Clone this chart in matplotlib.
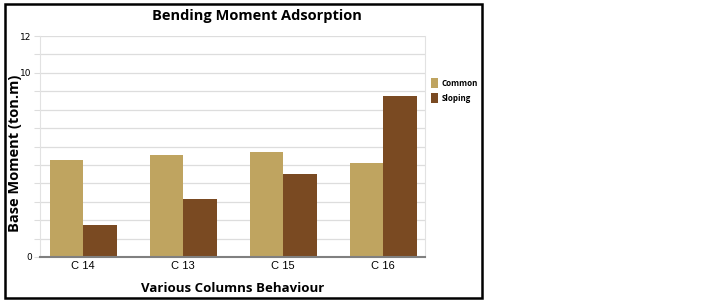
import matplotlib
matplotlib.use("Agg")
import matplotlib.pyplot as plt
import numpy as np
from matplotlib.patches import Rectangle

# data
columns = ["C 14", "C 13", "C 15", "C 16"]
common = [5.26, 5.56, 5.69, 5.08]
sloping = [1.76, 3.15, 4.50, 8.74]
ytick_labels = {0: "0", 10: "10", 12: "12"}

common_color = "#BFA460"
sloping_color = "#7A4A22"
bold_font = "Open Sans"

fig = plt.figure(figsize=(7.22, 3.0), dpi=100)
ax = fig.add_axes([40/722, 43/300, 385/722, 221/300])

x = np.arange(len(columns))
w = 0.335
ax.bar(x - w/2, common, w, color=common_color, label="Common", zorder=3)
ax.bar(x + w/2, sloping, w, color=sloping_color, label="Sloping", zorder=3)

ax.set_xlim(-0.43, 3.42)
ax.set_ylim(0, 12)
ax.set_yticks(range(0, 13))
ax.set_yticklabels([ytick_labels.get(v, "") for v in range(0, 13)],
                   fontsize=6.5, family="DejaVu Sans")
ax.tick_params(axis="y", length=4, color="#dddddd", pad=2)
ax.grid(axis="y", color="#dddddd", linewidth=0.9, zorder=0)

ax.set_xticks(x)
ax.set_xticklabels(columns, fontsize=8, family="Liberation Sans")
ax.tick_params(axis="x", length=0, pad=3)

for side in ["left", "right", "top"]:
    ax.spines[side].set_color("#e2e2e2")
ax.spines["top"].set_visible(False)
ax.spines["bottom"].set_color("#808080")
ax.spines["bottom"].set_linewidth(1.5)
ax.spines["bottom"].set_zorder(4)

fig.text(15/722, 1 - 153/300, "Base Moment (ton.m)", fontsize=10.5, fontweight="bold",
         family=bold_font, rotation=90, ha="center", va="center")
fig.text(233/722, 1 - 289/300, "Various Columns Behaviour", fontsize=9.5,
         fontweight="bold", family=bold_font, ha="center", va="center")
fig.text(257/722, 1 - 16/300, "Bending Moment Adsorption", fontsize=10.5,
         fontweight="bold", family=bold_font, ha="center", va="center")

leg = ax.legend(loc="upper left", bbox_to_anchor=(1.0, 0.835), frameon=False,
                prop={"size": 5.8, "weight": "bold", "family": bold_font},
                handlelength=0.9, handleheight=1.6, handletextpad=0.5,
                labelspacing=0.55, borderaxespad=0.3)

# black frame around the chart
fig.patches.append(Rectangle((5/722, 2/300), 477/722, 294/300, transform=fig.transFigure,
                             fill=False, edgecolor="black", linewidth=1.8))

fig.savefig("out.png", dpi=100)
